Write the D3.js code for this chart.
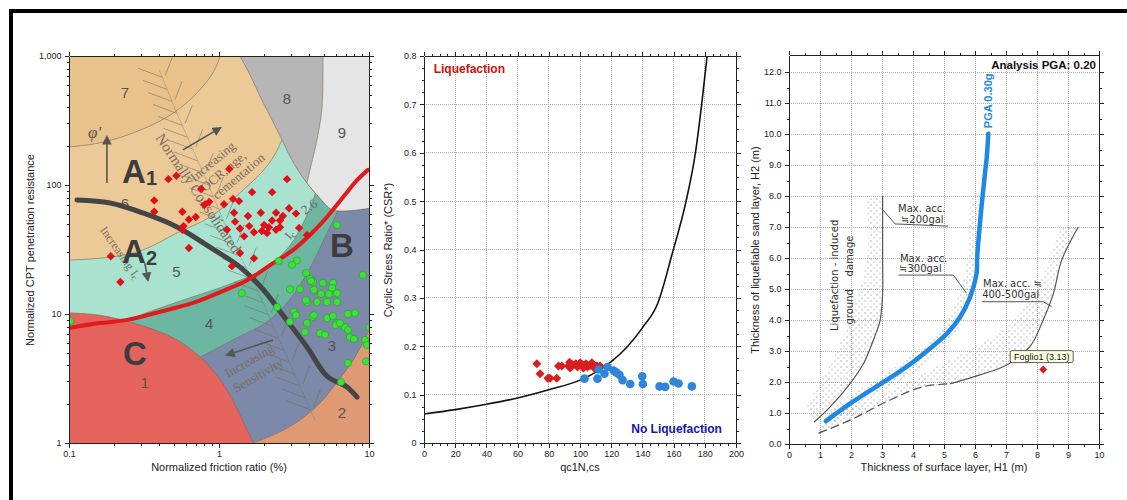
<!DOCTYPE html>
<html>
<head>
<meta charset="utf-8">
<title>CPT liquefaction assessment</title>
<script src="https://cdnjs.cloudflare.com/ajax/libs/d3/7.8.5/d3.min.js"></script>
<style>
  html,body{margin:0;padding:0;background:#fff;}
  svg{display:block;font-family:"Liberation Sans",Arial,sans-serif;}
  .axis path,.axis line{stroke:#222;shape-rendering:crispEdges;}
  .axis text{font-size:9px;fill:#222;font-family:"Liberation Sans",Arial,sans-serif;}
  .grid line{stroke:#b0b0b0;stroke-dasharray:1,1;shape-rendering:crispEdges;}
  .title{font-size:11px;fill:#222;}
</style>
</head>
<body>
<svg id="chart" width="1127" height="500"></svg>
<script>
// ================= Panel 1: soil behaviour type chart (Fr %, Qtn) =================
// zone outlines as [Fr, Qtn]
const zoneEdge1  = [[0.1,10.2],[0.16,9.8],[0.30,8.2],[0.525,6.3],[0.75,4.64],[0.94,3.49],[1.13,2.58],[1.38,1.65],[1.69,1.0]];
const zoneEdge23 = [[1.69,1.0],[2.55,1.22],[3.47,1.51],[4.71,2.04],[5.93,2.82],[7.47,4.03],[8.98,5.75],[10,7.5]];
const zoneEdge34 = [[0.75,4.64],[1.24,6.3],[2.09,8.7],[2.75,11.7],[3.47,16.8],[4.36,27],[5.25,42.5],[6.12,61],[6.92,84]];
const zoneEdge45 = [[0.22,8.2],[0.28,9.5],[0.575,12.8],[1.24,17.4],[2.09,23],[2.97,34],[3.74,54],[4.36,84],[4.71,120]];
const zoneEdge56 = [[0.1,26.2],[0.19,27.6],[0.31,31.3],[0.525,42.5],[0.87,56.5],[1.45,91.5],[2.12,143],[2.63,224],[3.21,456],[3.74,1000]];
const zoneEdge67 = [[0.1,197],[0.16,212],[0.267,253],[0.45,336],[0.67,480],[0.91,738],[1.02,1000]];
const zoneEdge8  = [[1.38,1000],[1.61,712],[1.93,456],[2.26,319],[2.63,224],[3.11,151],[3.86,103.6],[4.71,79],[5.75,64],[10,66]];
const zoneEdge89 = [[4.93,1000],[4.86,402],[4.50,224],[4.04,131],[3.86,103.6]];
const zoneColors = {1:"#E4635C",2:"#DF9A74",3:"#7C89A8",4:"#6CB6A2",5:"#A9E3CF",6:"#ECCA98",7:"#E8C28A",8:"#B6B6B6",9:"#E5E5E5"};

// A1/A2 separation line and cyclic-softening boundary
const boundaryA = [[0.113,76.5],[0.188,72.5],[0.311,60.7],[0.525,47.3],[0.87,33],[1.38,23.1],[1.93,15.9],[2.67,9.8],[3.86,5.55],[5.25,3.3],[7.13,2.72],[8.32,2.27]];
const boundaryRed = [[0.1,7.8],[0.16,8.5],[0.244,9.0],[0.404,10.4],[0.67,12.2],[1.02,14.8],[1.54,18.3],[2.19,23.9],[3.11,31.3],[4.04,41],[5.25,56.5],[6.92,84],[8.32,109],[9.85,131]];
// normally consolidated band spine
const ncSpine = [[0.40,780],[0.53,350],[0.72,156],[0.94,76],[1.22,37.5],[1.74,16.8],[2.36,7.5],[3.21,3.37],[4.36,1.5]];

// CPT points: sand-like (red) and clay-like (green)
const sandFr = [0.46,0.52,1.17,2.84,0.76,1.66,2.26,0.37,0.37,0.57,0.80,0.86,1.08,1.24,1.36,0.63,0.70,0.58,0.57,1.26,1.56,1.90,2.40,2.93,3.26,1.28,1.13,1.38,1.59,1.71,1.47,1.93,2.0,2.15,2.26,2.55,2.67,2.40,2.55,2.09,3.42,3.86,0.63,1.38,1.71,1.22,0.19,0.22];
const sandQ  = [111,118,133,111,93,88,88,76,62,62,70,74,71,78,75,54,56.5,48,45,61,57.5,61,61,66,60,52,45,46,48,43,40,44,49,47,53,53,57.5,45,47,42.5,46.5,41,32.5,29.7,27,23.5,28,17.7];
const clayFr = [6.1,3.3,3.07,2.5,9.1,1.42,3.8,4.04,4.23,4.93,5.75,5.67,2.97,3.47,4.30,4.79,5.41,6.12,5.25,4.50,3.86,2.44,3.16,4.23,5.25,7.24,8.07,2.97,3.86,6.12,6.92,4.71,5.09,3.74,7.47,7.94,9.4,9.7,7.24,9.55,6.5,0.102,10,6.0,6.4,4.1,3.26,4.30,5.75,6.12,3.80,7.24];
const clayQ  = [49,26,24,25.7,20,14.5,20.8,18.7,17.7,17.4,17.4,15.9,15.6,15.6,15.4,14.3,14.3,12.4,12.4,12.4,12.4,11.3,10.4,9.5,9.3,10.0,10.2,8.7,8.5,8.5,7.9,7.1,6.9,7.25,6.6,6.4,6.3,5.75,4.17,4.3,2.97,8.8,7.9,8.2,8.5,18.0,9.8,9.8,9.65,14.5,12.8,7.5];

const zoneNumbers = [["1",0.32,2.92],["2",6.6,1.71],["3",5.67,5.75],["4",0.86,8.4],["5",0.52,21.5],["6",0.236,72.5],["7",0.236,525],["8",2.84,472],["9",6.6,253]];
const groupLabels = [["A","1",0.226,103.6],["A","2",0.226,24.8],["B","",5.5,27.6],["C","",0.229,4.03]];

// ================= Panel 2: CSR vs qc1N,cs =================
const crrQ   = [0,20,40,60,80,100,110,120,130,140,150,159,168,174,178,181.5];
const crrCsr = [0.060,0.069,0.080,0.093,0.110,0.130,0.146,0.168,0.198,0.238,0.29,0.39,0.50,0.60,0.70,0.80];
const liqQ   = [72.3,74.4,79.4,80.8,85.1,86.2,88.3,92.6,93.3,93.7,95.2,97.3,98.4,100.1,101.6,102.2,103.9,104.8,106.5,107.6,109.1,110.8,112.9];
const liqCsr = [0.164,0.143,0.134,0.134,0.134,0.159,0.159,0.159,0.167,0.155,0.162,0.164,0.157,0.166,0.162,0.155,0.164,0.157,0.160,0.166,0.155,0.159,0.159];
const noLiqQ   = [102.9,111.2,111.9,115.7,117.6,121.5,123.2,125.3,127.3,132.2,139.9,140.3,151.0,154.6,160.0,163.2,171.7];
const noLiqCsr = [0.133,0.133,0.152,0.143,0.157,0.150,0.146,0.141,0.130,0.122,0.138,0.122,0.117,0.116,0.127,0.123,0.117];

// ================= Panel 3: H1 vs H2 (Ishihara) =================
const curve200 = [[0.81,0.71],[1.32,1.19],[1.97,1.95],[2.40,2.59],[2.72,3.35],[2.94,3.99],[3.02,4.85],[3.02,5.93],[3.02,8.0]];
const band200Edge = [[0.57,1.19],[1.11,2.16],[1.65,3.24],[2.07,4.31],[2.40,5.39],[2.56,6.57],[2.48,7.97]];
const band300Upper = [[1.1,0.95],[2.0,1.6],[3.0,2.2],[4.0,2.9],[4.8,3.6],[5.3,4.4],[5.6,5.2],[5.75,6.0],[5.8,7.0],[5.85,7.9]];
const band300Lower = [[6.15,7.9],[6.1,6.5],[6.0,5.5],[5.8,4.5],[5.4,3.6],[4.8,2.9],[3.9,2.2],[2.9,1.6],[1.9,1.0],[1.3,0.6]];
const curve400Dashed = [[0.95,0.35],[1.97,0.77],[3.26,1.42],[4.33,1.85],[5.19,1.94]];
const curve400Solid  = [[5.19,1.94],[6.16,2.23],[7.02,2.55],[7.77,3.14],[8.20,4.0],[8.53,4.86],[8.80,5.94],[9.33,7.0]];
const band400Edge = [[1.0,0.55],[1.6,1.0],[2.72,1.45],[4.33,2.27],[5.95,3.13],[7.02,3.77],[7.77,4.64],[8.31,5.71],[8.74,6.89],[8.9,7.0]];
const pga30H1 = [1.19,1.97,2.72,3.47,4.01,4.55,5.09,5.52,5.84,6.05,6.07,6.21,6.32,6.38,6.43];
const pga30H2 = [0.74,1.30,1.79,2.27,2.65,3.08,3.56,4.10,4.74,5.50,6.03,7.65,8.72,9.26,10.01];
const siteH1 = [8.20], siteH2 = [2.40], siteNames = ["Foglio1 (3.13)"];

// ---------------------------------------------------------------
const svg = d3.select("#chart");
svg.append("rect").attr("width",1127).attr("height",500).attr("fill","#fff");
// heavy frame on top and left
svg.append("rect").attr("x",9).attr("y",9).attr("width",1118).attr("height",4).attr("fill","#000");
svg.append("rect").attr("x",9).attr("y",9).attr("width",4).attr("height",491).attr("fill","#000");

const defs = svg.append("defs");
function clip(id, x0, y0, x1, y1){
  defs.append("clipPath").attr("id",id).append("rect").attr("x",x0).attr("y",y0).attr("width",x1-x0).attr("height",y1-y0);
}
// stipple texture
const pat = defs.append("pattern").attr("id","stipple").attr("patternUnits","userSpaceOnUse").attr("width",6).attr("height",6);
pat.append("circle").attr("cx",1).attr("cy",1).attr("r",0.7).attr("fill","#8f8f8f");
pat.append("circle").attr("cx",4).attr("cy",4).attr("r",0.65).attr("fill","#a0a0a0");

function addAxes(g, x, y, o){
  const yb = y.range()[0], yt = y.range()[1], xl = x.range()[0], xr = x.range()[1];
  const mk = (axis, tr, vals, size, fmt) => {
    const a = axis.tickValues(vals).tickSize(size).tickSizeOuter(0);
    if (fmt) a.tickFormat(fmt).tickPadding(3); else a.tickFormat("");
    g.append("g").attr("class","axis").attr("transform",tr).call(a);
  };
  mk(d3.axisBottom(x), `translate(0,${yb})`, o.xMinor, 2.5, null);
  mk(d3.axisBottom(x), `translate(0,${yb})`, o.xMajor, 4.5, o.xFmt);
  mk(d3.axisTop(x), `translate(0,${yt})`, o.xMinor, 2.5, null);
  mk(d3.axisTop(x), `translate(0,${yt})`, o.xMajor, 4.5, null);
  mk(d3.axisLeft(y), `translate(${xl},0)`, o.yMinor, 2.5, null);
  mk(d3.axisLeft(y), `translate(${xl},0)`, o.yMajor, 4.5, o.yFmt);
  mk(d3.axisRight(y), `translate(${xr},0)`, o.yMinor, 2.5, null);
  mk(d3.axisRight(y), `translate(${xr},0)`, o.yMajor, 4.5, null);
}
function grid(g, x, y, xs, ys){
  const gg = g.append("g").attr("class","grid");
  gg.selectAll(".gx").data(xs).join("line").attr("x1",d=>x(d)).attr("x2",d=>x(d)).attr("y1",y.range()[0]).attr("y2",y.range()[1]);
  gg.selectAll(".gy").data(ys).join("line").attr("y1",d=>y(d)).attr("y2",d=>y(d)).attr("x1",x.range()[0]).attr("x2",x.range()[1]);
}
const diamond = s => `M0,${-s}L${s},0L0,${s}L${-s},0Z`;

// ====================== Panel 1 ======================
const x1 = d3.scaleLog().domain([0.1,10]).range([69,369]);
const y1 = d3.scaleLog().domain([1,1000]).range([443,56]);
clip("c1",69,56,369,443);
const g1 = svg.append("g");
const z = g1.append("g").attr("clip-path","url(#c1)");
const smooth = d3.line().x(d=>x1(d[0])).y(d=>y1(d[1])).curve(d3.curveCatmullRom.alpha(0.5));
function shape(edges, corners){
  let s = "";
  edges.forEach((e,i)=>{ const p = smooth(e); s += i===0 ? p : "L" + p.slice(1); });
  corners.forEach(c => s += `L${x1(c[0])},${y1(c[1])}`);
  return s + "Z";
}
function zone(edges, corners, color){
  z.append("path").attr("d",shape(edges,corners)).attr("fill",color);
  edges.forEach(e => z.append("path").attr("d",smooth(e)).attr("fill","none").attr("stroke","#7a6c60").attr("stroke-width",0.8).attr("opacity",0.8));
}
z.append("rect").attr("x",69).attr("y",56).attr("width",300).attr("height",387).attr("fill",zoneColors[2]);
zone([zoneEdge23],[[10,1000],[0.1,1000],[0.1,1]],zoneColors[3]);
zone([zoneEdge34],[[10,1000],[0.1,1000],[0.1,1]],zoneColors[4]);
zone([zoneEdge45],[[10,1000],[0.1,1000],[0.1,1]],zoneColors[5]);
zone([zoneEdge56],[[0.1,1000]],zoneColors[6]);
zone([zoneEdge67],[[0.1,1000]],zoneColors[7]);
zone([zoneEdge8],[[10,1000]],zoneColors[8]);
zone([zoneEdge89, zoneEdge8.slice(6)],[[10,1000]],zoneColors[9]);
zone([zoneEdge1],[[0.1,1]],zoneColors[1]);

// hatched normally-consolidated band
const hatch = z.append("g").attr("stroke","#6e6a66").attr("stroke-width",0.9).attr("fill","none").attr("opacity",0.6);
const spine = hatch.append("path").attr("d",smooth(ncSpine)).attr("opacity",0.6);
const spineNode = spine.node(), spineLen = spineNode.getTotalLength();
for (let s = 8; s < spineLen; s += 13){
  const p = spineNode.getPointAtLength(s);
  hatch.append("line").attr("x1",p.x).attr("y1",p.y).attr("x2",p.x-24).attr("y2",p.y-9);
  if (s % 26 < 13) hatch.append("line").attr("x1",p.x+3).attr("y1",p.y-2).attr("x2",p.x+10).attr("y2",p.y-20);
}

// serif annotations
const ann = z.append("g").attr("font-family","'Liberation Serif',serif").attr("fill","#7b6d62");
function rotText(t, at, ang, size, extra){
  const el = ann.append("text").attr("transform",`translate(${x1(at[0])},${y1(at[1])}) rotate(${ang})`).attr("font-size",size).text(t);
  if (extra) extra(el);
  return el;
}
rotText("Normally Consolidated",[0.374,232],56,15);
rotText("Increasing",[0.69,105],-40,13);
rotText("OCR, age,",[0.81,88],-40,13);
rotText("cementation",[0.97,76.5],-40,13);
rotText("Increasing I",[0.16,44.8],55,12, el=>el.append("tspan").attr("font-size",9).attr("dy",2).text("c"));
rotText("Increasing",[1.15,3.19],-30,13);
rotText("Sensitivity",[1.30,2.44],-30,13);
rotText("2.6",[3.74,58.6],-35,13).attr("fill","#666");
rotText("I",[2.97,37.5],-50,12, el=>el.append("tspan").attr("font-size",9).attr("dy",2).text("c")).attr("fill","#666");
rotText("φ'",[0.134,232],0,17).attr("font-style","italic").attr("fill","#5e5048");

defs.append("marker").attr("id","ah").attr("viewBox","0 0 10 10").attr("refX",8).attr("refY",5)
  .attr("markerWidth",6).attr("markerHeight",6).attr("orient","auto")
  .append("path").attr("d","M0,0L10,5L0,10Z").attr("fill","#555");
const arrows = [[[0.179,103.6],[0.179,236]],[[0.575,187],[1.02,277]],[[0.32,24.8],[0.336,18.3]],[[2.29,6.29],[1.13,4.81]]];
z.append("g").selectAll("line").data(arrows).join("line")
  .attr("x1",d=>x1(d[0][0])).attr("y1",d=>y1(d[0][1])).attr("x2",d=>x1(d[1][0])).attr("y2",d=>y1(d[1][1]))
  .attr("stroke","#555").attr("stroke-width",1.6).attr("marker-end","url(#ah)");

// zone numbers
z.append("g").selectAll("text").data(zoneNumbers).join("text")
  .attr("x",d=>x1(d[1])).attr("y",d=>y1(d[2])).attr("text-anchor","middle").attr("dominant-baseline","central")
  .attr("font-size",15).attr("fill","#555").text(d=>d[0]);
// group letters
const gl = z.append("g").attr("font-weight","bold").attr("fill","#3d3d3d");
groupLabels.forEach(d=>{
  const t = gl.append("text").attr("x",x1(d[2])).attr("y",y1(d[3])).attr("font-size",33).text(d[0]);
  if (d[1]) t.append("tspan").attr("font-size",20).attr("dy",2).text(d[1]);
});

// boundaries
const lineLog = d3.line().x(d=>x1(d[0])).y(d=>y1(d[1])).curve(d3.curveCatmullRom.alpha(0.5));
z.append("path").attr("d",lineLog(boundaryA)).attr("fill","none").attr("stroke","#454545").attr("stroke-width",5).attr("stroke-linecap","round");
z.append("path").attr("d",lineLog(boundaryRed)).attr("fill","none").attr("stroke","#E11B1B").attr("stroke-width",4).attr("stroke-linecap","round");

// points
z.append("g").selectAll("path").data(d3.range(sandFr.length)).join("path")
  .attr("transform",i=>`translate(${x1(sandFr[i])},${y1(sandQ[i])})`).attr("d",diamond(4.2)).attr("fill","#E0101A");
z.append("g").selectAll("circle").data(d3.range(clayFr.length)).join("circle")
  .attr("cx",i=>x1(clayFr[i])).attr("cy",i=>y1(clayQ[i])).attr("r",3.6).attr("fill","#3DE03D").attr("stroke","#23a023").attr("stroke-width",0.6);

addAxes(g1, x1, y1, {
  xMajor:[0.1,1,10], xMinor:[0.2,0.3,0.4,0.5,0.6,0.7,0.8,0.9,2,3,4,5,6,7,8,9], xFmt:d=>d3.format("~g")(d),
  yMajor:[1,10,100,1000], yMinor:[2,3,4,5,6,7,8,9,20,30,40,50,60,70,80,90,200,300,400,500,600,700,800,900], yFmt:d3.format(",")
});
g1.append("text").attr("class","title").attr("x",219).attr("y",471).attr("text-anchor","middle").text("Normalized friction ratio (%)");
g1.append("text").attr("class","title").attr("transform","translate(34,250) rotate(-90)").attr("text-anchor","middle").text("Normalized CPT penetration resistance");

// ====================== Panel 2 ======================
const x2 = d3.scaleLinear().domain([0,200]).range([424,736]);
const y2 = d3.scaleLinear().domain([0,0.8]).range([443,56]);
clip("c2",424,56,736,443);
const g2 = svg.append("g");
grid(g2, x2, y2, d3.range(20,200,20), d3.range(1,8).map(d=>d/10));
const p2 = g2.append("g").attr("clip-path","url(#c2)");
p2.append("path").datum(crrQ.map((q,i)=>[q,crrCsr[i]]))
  .attr("d",d3.line().x(d=>x2(d[0])).y(d=>y2(d[1])).curve(d3.curveMonotoneX))
  .attr("fill","none").attr("stroke","#111").attr("stroke-width",1.6);
p2.append("g").selectAll("path").data(d3.range(liqQ.length)).join("path")
  .attr("transform",i=>`translate(${x2(liqQ[i])},${y2(liqCsr[i])})`).attr("d",diamond(4.5)).attr("fill","#D81E1E");
p2.append("g").selectAll("circle").data(d3.range(noLiqQ.length)).join("circle")
  .attr("cx",i=>x2(noLiqQ[i])).attr("cy",i=>y2(noLiqCsr[i])).attr("r",4.3).attr("fill","#2F86D8");
g2.append("text").attr("x",x2(6.2)).attr("y",y2(0.765)).attr("font-size",12).attr("font-weight","bold").attr("fill","#CC1010").text("Liquefaction");
g2.append("text").attr("x",x2(191)).attr("y",y2(0.02)).attr("text-anchor","end").attr("font-size",12).attr("font-weight","bold").attr("fill","#1515B5").text("No Liquefaction");
addAxes(g2, x2, y2, {
  xMajor:d3.range(0,201,20), xMinor:d3.range(0,201,5).filter(d=>d%20), xFmt:d3.format("d"),
  yMajor:d3.range(0,9).map(d=>d/10), yMinor:d3.range(0,33).map(d=>d*0.025).filter((d,i)=>i%4), yFmt:d=>d===0?"0":d3.format(".1f")(d)
});
g2.append("text").attr("class","title").attr("x",580).attr("y",471).attr("text-anchor","middle").text("qc1N,cs");
g2.append("text").attr("class","title").attr("transform","translate(392,250) rotate(-90)").attr("text-anchor","middle").text("Cyclic Stress Ratio* (CSR*)");

// ====================== Panel 3 ======================
const x3 = d3.scaleLinear().domain([0,10]).range([789,1099]);
const y3 = d3.scaleLinear().domain([0,12.55]).range([444,55]);
clip("c3",789,55,1099,444);
const g3 = svg.append("g");
grid(g3, x3, y3, d3.range(1,10), d3.range(1,13));
const p3 = g3.append("g").attr("clip-path","url(#c3)");
const l3 = d3.line().x(d=>x3(d[0])).y(d=>y3(d[1])).curve(d3.curveCatmullRom.alpha(0.5));
const l3lin = d3.line().x(d=>x3(d[0])).y(d=>y3(d[1]));
function band(a, b){ return l3(a) + "L" + l3(b).slice(1) + "Z"; }
const curve400 = curve400Dashed.concat(curve400Solid.slice(1));
const bands = p3.append("g").attr("fill","url(#stipple)").attr("opacity",0.85);
bands.append("path").attr("d",band(band200Edge, curve200.slice().reverse()));
bands.append("path").attr("d",band(band300Upper, band300Lower));
bands.append("path").attr("d",band(band400Edge, curve400.slice().reverse()));
const ink = p3.append("g").attr("fill","none").attr("stroke","#555").attr("stroke-width",1.2);
ink.append("path").attr("d",l3(curve200));
ink.append("path").attr("d",l3(curve400Solid));
ink.append("path").attr("d",l3(curve400Dashed)).attr("stroke-dasharray","9,4");
// hand-lettered notes with leaders
const notes = p3.append("g").attr("font-family","'DejaVu Sans',sans-serif").attr("font-size",10).attr("fill","#333");
const leaders = [
  [[3.03,7.55],[3.42,7.10],[5.13,7.03]],
  [[3.53,5.45],[5.30,5.45],[5.73,4.86]],
  [[6.22,4.59],[8.20,4.59],[8.47,4.43]]
];
leaders.forEach(l => ink.append("path").attr("d",l3lin(l)).attr("stroke-width",1));
const noteText = [["Max. acc.",3.52,7.48],["≒200gal",3.61,7.13],["Max. acc.",3.58,5.87],["≒300gal",3.55,5.55],["Max. acc. ≒",6.26,5.06],["400-500gal",6.23,4.71]];
notes.selectAll("text").data(noteText).join("text").attr("x",d=>x3(d[1])).attr("y",d=>y3(d[2])).text(d=>d[0]);
notes.append("text").attr("transform",`translate(${x3(1.48)},${y3(5.44)}) rotate(-90)`).attr("text-anchor","middle").attr("dominant-baseline","central").text("Liquefaction - induced");
notes.append("text").attr("transform",`translate(${x3(1.94)},${y3(5.29)}) rotate(-90)`).attr("text-anchor","middle").attr("dominant-baseline","central").attr("xml:space","preserve").text("ground    damage");

// PGA curve
p3.append("path").datum(pga30H1.map((h,i)=>[h,pga30H2[i]])).attr("d",l3)
  .attr("fill","none").attr("stroke","#1E88E5").attr("stroke-width",4.5).attr("stroke-linecap","round");
p3.append("text").attr("transform",`translate(${x3(6.42)},${y3(10.19)}) rotate(-90)`).attr("dominant-baseline","central")
  .attr("font-size",11).attr("font-weight","bold").attr("fill","#1E88E5").text("PGA 0.30g");
// site point with tag
const site = p3.append("g").selectAll("g").data(d3.range(siteH1.length)).join("g")
  .attr("transform",i=>`translate(${x3(siteH1[i])},${y3(siteH2[i])})`);
site.append("path").attr("d",diamond(4)).attr("fill","#D81E1E");
site.append("rect").attr("x",-33).attr("y",-19).attr("width",63).attr("height",12).attr("rx",2).attr("fill","#FFFFE1").attr("stroke","#333").attr("stroke-width",0.8);
site.append("text").attr("x",-1.5).attr("y",-9.8).attr("text-anchor","middle").attr("font-size",9).attr("fill","#111").text(i=>siteNames[i]);
g3.append("text").attr("x",1096).attr("y",69).attr("text-anchor","end").attr("font-size",11.5).attr("font-weight","bold").attr("fill","#111").text("Analysis PGA: 0.20");

addAxes(g3, x3, y3, {
  xMajor:d3.range(0,11), xMinor:d3.range(0,20).map(d=>d+0.5).filter(d=>d<10), xFmt:d3.format("d"),
  yMajor:d3.range(0,13), yMinor:d3.range(0,25).map(d=>d*0.5).filter(d=>d%1), yFmt:d3.format(".1f")
});
g3.append("text").attr("class","title").attr("x",944).attr("y",471).attr("text-anchor","middle").text("Thickness of surface layer, H1 (m)");
g3.append("text").attr("class","title").attr("transform","translate(759,250) rotate(-90)").attr("text-anchor","middle").text("Thickness of liquefiable sand layer, H2 (m)");
</script>
</body>
</html>
